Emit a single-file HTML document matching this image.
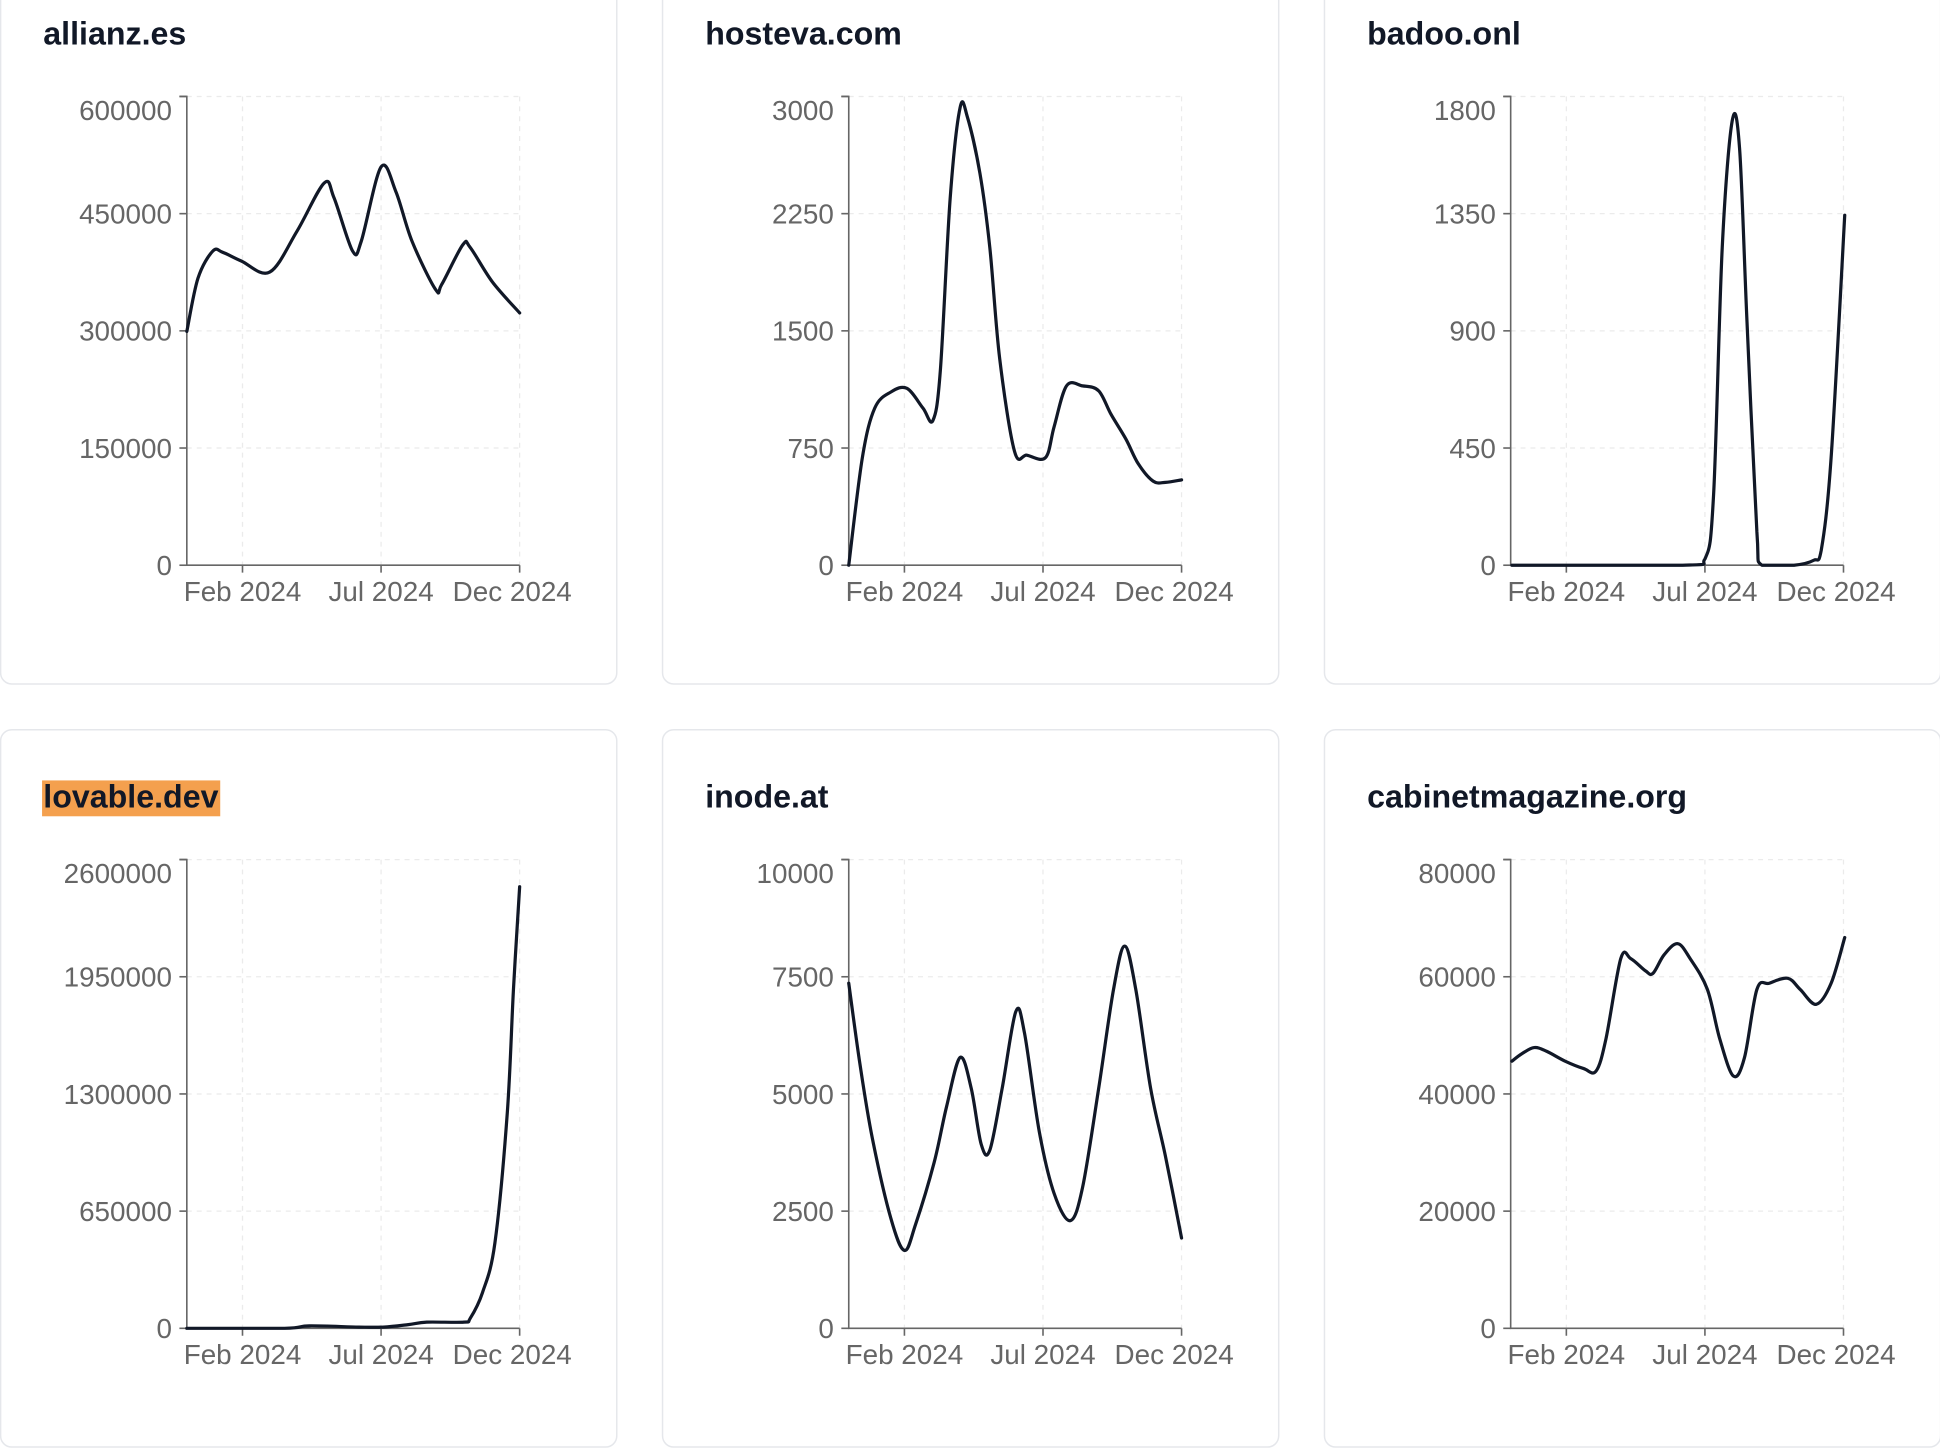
<!DOCTYPE html>
<html><head><meta charset="utf-8"><style>
html,body{margin:0;padding:0;background:#fff;}
svg{display:block;}
text{font-family:"Liberation Sans",Arial,sans-serif;}
</style></head><body>
<svg id="s" width="1940" height="1452" viewBox="0 0 1568 1174" preserveAspectRatio="none" xmlns="http://www.w3.org/2000/svg"></svg>
<script>
const s=document.getElementById('s');
const NS='http://www.w3.org/2000/svg';
function el(t,a,txt){const e=document.createElementNS(NS,t);for(const k in a)e.setAttribute(k,a[k]);if(txt!==undefined)e.textContent=txt;s.appendChild(e);return e;}
function cr(p,maxY){const c=v=>Math.min(v,maxY);let d='M'+p[0][0]+','+p[0][1];for(let i=0;i<p.length-1;i++){const p0=p[i-1]||p[i],p1=p[i],p2=p[i+1],p3=p[i+2]||p2;
const c1=[p1[0]+(p2[0]-p0[0])/6,c(p1[1]+(p2[1]-p0[1])/6)],c2=[p2[0]-(p3[0]-p1[0])/6,c(p2[1]-(p3[1]-p1[1])/6)];
d+=' C'+c1.join(',')+' '+c2.join(',')+' '+p2.join(',');}return d;}
const panels=[
{x:0,y:0,title:'allianz.es',ticks:['0','150000','300000','450000','600000'],
 pts:[[151,268],[160,225],[172,203],[180,204],[195,211],[218,220],[240,187],[262,148],[270,160],[285,203],[292,195],[308,135],[320,155],[333,195],[352,234],[357,230],[374,198],[380,200],[398,228],[420,253]]},
{x:535,y:0,title:'hosteva.com',ticks:['0','750','1500','2250','3000'],
 pts:[[686,457],[697,370],[707,330],[720,317],[733,314],[746,330],[754,340],[760,300],[768,160],[776,87],[782,95],[792,140],[800,200],[808,290],[820,365],[830,368],[845,370],[852,345],[862,312],[875,312],[888,316],[898,335],[910,355],[920,375],[932,389],[942,390],[955,388]]},
{x:1070,y:0,title:'badoo.onl',ticks:['0','450','900','1350','1800'],
 pts:[[1222,457],[1360,457],[1378,452],[1385,400],[1392,200],[1400,98],[1406,120],[1412,260],[1420,430],[1424,457],[1450,457],[1466,453],[1472,445],[1480,370],[1491,174]]},
{x:0,y:617,title:'lovable.dev',hl:true,ticks:['0','650000','1300000','1950000','2600000'],
 pts:[[151,1074],[230,1074],[250,1072],[290,1073],[310,1073],[330,1071],[345,1069],[375,1069],[380,1066],[390,1045],[400,1005],[410,900],[415,800],[420,717]]},
{x:535,y:617,title:'inode.at',ticks:['0','2500','5000','7500','10000'],
 pts:[[686,795],[695,860],[705,920],[720,985],[731,1011],[740,990],[755,940],[765,895],[776,855],[785,880],[793,925],[800,930],[810,880],[821,818],[828,835],[840,915],[852,965],[865,987],[875,960],[888,880],[900,800],[909,765],[918,800],[930,880],[942,935],[955,1001]]},
{x:1070,y:617,title:'cabinetmagazine.org',ticks:['0','20000','40000','60000','80000'],
 pts:[[1222,858],[1230,852],[1240,847],[1250,850],[1265,858],[1280,864],[1290,866],[1298,840],[1310,775],[1318,775],[1330,785],[1336,787],[1345,772],[1356,763],[1366,775],[1380,800],[1390,840],[1401,870],[1410,855],[1420,800],[1430,795],[1445,791],[1455,800],[1468,812],[1480,795],[1491,758]]}
];
panels.forEach(p=>{
 const ox=p.x,oy=p.y;
 el('rect',{x:ox+0.5,y:oy-27,width:498,height:580,rx:9,fill:'#fff',stroke:'#e5e7eb','stroke-width':1.2});
 if(p.hl) el('rect',{x:34,y:oy+14,width:144,height:29,fill:'#f4a04e'});
 el('text',{x:ox+35,y:oy+36,'font-size':26,'font-weight':'bold',fill:'#111827'},p.title);
 const ax=ox+151,top=oy+78,bot=oy+457,right=ox+420;
 for(let i=1;i<=4;i++){const y=bot-i*94.75;el('line',{x1:ax,x2:right,y1:y,y2:y,stroke:'#ebebeb','stroke-dasharray':'4 4','stroke-width':1});}
 [196,308,420].forEach(x=>el('line',{x1:ox+x,x2:ox+x,y1:top,y2:bot,stroke:'#ebebeb','stroke-dasharray':'4 4','stroke-width':1}));
 el('path',{d:`M${ax-6},${top} H${ax} V${bot} H${right}`,fill:'none',stroke:'#666','stroke-width':1.3});
 for(let i=0;i<=4;i++){const y=bot-i*94.75;el('line',{x1:ax-6,x2:ax,y1:y,y2:y,stroke:'#666','stroke-width':1.3});
  el('text',{x:ax-12,y:(i==4?y+19:y+8),'font-size':22.5,fill:'#666','text-anchor':'end'},p.ticks[i]);}
 [[196,'Feb 2024'],[308,'Jul 2024'],[420,'Dec 2024']].forEach(([x,t],j)=>{
  el('line',{x1:ox+x,x2:ox+x,y1:bot,y2:bot+6,stroke:'#666','stroke-width':1.3});
  el('text',{x:ox+(j==2?414:x),y:bot+29,'font-size':22.5,fill:'#666','text-anchor':'middle'},t);});
 el('path',{d:cr(p.pts,bot),fill:'none',stroke:'#111827','stroke-width':2.6,'stroke-linejoin':'round','stroke-linecap':'round'});
});
</script>
</body></html>
